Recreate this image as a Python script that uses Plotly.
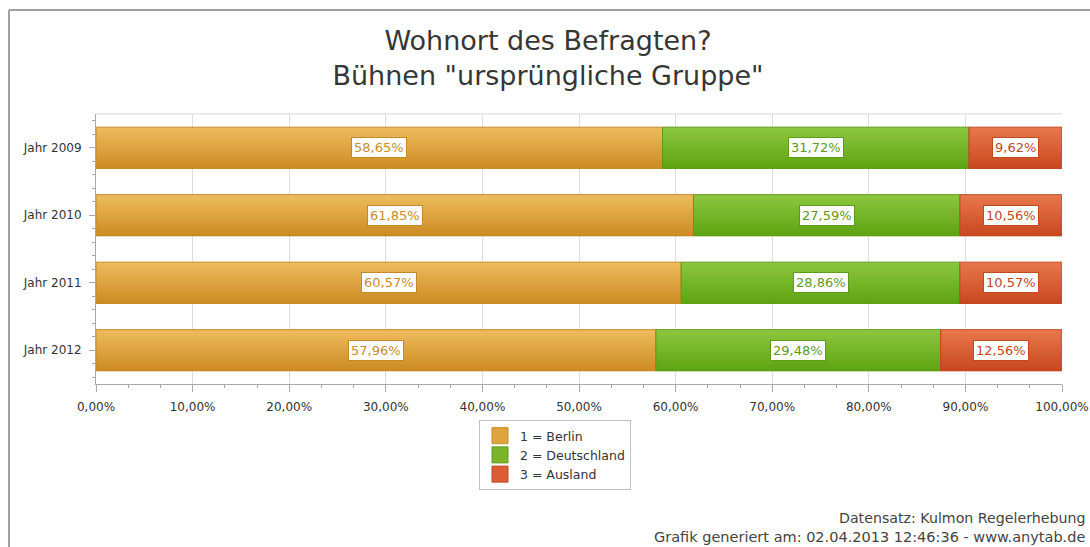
import plotly.graph_objects as go

years = ["Jahr 2009", "Jahr 2010", "Jahr 2011", "Jahr 2012"]
berlin = [58.65, 61.85, 60.57, 57.96]
deutschland = [31.72, 27.59, 28.86, 29.48]
ausland = [9.62, 10.56, 10.57, 12.56]
series_names = ["1 = Berlin", "2 = Deutschland", "3 = Ausland"]
x_ticks = [0, 10, 20, 30, 40, 50, 60, 70, 80, 90, 100]
x_tick_labels = [f"{v:.2f}%".replace(".", ",") for v in x_ticks]

W, H = 1090, 547
L, R, T, B = 96, 28, 114, 163
PW, PH = W - L - R, H - T - B

top_cols = ["#edbb5c", "#8cc63f", "#e8774c"]
bot_cols = ["#cd8c24", "#5fa412", "#c9491f"]
fills = ["#dea43e", "#78b52a", "#dc5d33"]
lines = ["#c48a28", "#5f9a1a", "#bf4a22"]
textcol = ["#c78d2a", "#5f9a1a", "#c2461e"]


def hex2rgb(h):
    h = h.lstrip("#")
    return [int(h[i:i + 2], 16) for i in (0, 2, 4)]


def mix(c1, c2, t):
    a, b = hex2rgb(c1), hex2rgb(c2)
    return "rgb({},{},{})".format(*[round(a[k] + (b[k] - a[k]) * t) for k in range(3)])


ypos = list(range(len(years)))
BAR_W = 0.61
NSTRIP = 20
fig = go.Figure()
data = [berlin, deutschland, ausland]
bases = [[0] * 4, berlin, [b + d for b, d in zip(berlin, deutschland)]]
for i, (vals, name) in enumerate(zip(data, series_names)):
    # vertical gradient: each layer covers from its start down to the bar's bottom edge
    sw = BAR_W / NSTRIP
    for k in range(NSTRIP):
        fig.add_trace(go.Bar(
            y=ypos, x=vals, base=bases[i], orientation="h",
            width=BAR_W - k * sw, offset=-BAR_W / 2 + k * sw,
            showlegend=False, legendgroup=name,
            marker=dict(color=mix(top_cols[i], bot_cols[i], k / (NSTRIP - 1)), line=dict(width=0)),
            hoverinfo="skip",
        ))
    # outline
    fig.add_trace(go.Bar(
        y=ypos, x=vals, base=bases[i], orientation="h", name=name,
        width=BAR_W, showlegend=False, legendgroup=name,
        marker=dict(color="rgba(0,0,0,0)", line=dict(color=lines[i], width=1)),
        hoverinfo="skip",
    ))
    for j, v in enumerate(vals):
        fig.add_annotation(
            x=bases[i][j] + v / 2, y=ypos[j], xref="x", yref="y",
            text=f"{v:.2f}%".replace(".", ","), showarrow=False,
            font=dict(family="DejaVu Sans", size=13, color=textcol[i]),
            bgcolor="white", bordercolor=lines[i], borderwidth=1, borderpad=2,
        )

# legend swatches (legend-only entries)
for i, name in enumerate(series_names):
    fig.add_trace(go.Scatter(
        x=[None], y=[None], mode="markers", name=name, legendgroup=name,
        marker=dict(symbol="square", size=16, color=fills[i], line=dict(color=lines[i], width=1)),
        hoverinfo="skip",
    ))


def px(xp):
    return (xp - L) / PW


def py(yp):
    return (H - B - yp) / PH


shapes = [
    dict(type="line", xref="paper", yref="paper", x0=px(9), x1=px(1092), y0=py(10), y1=py(10),
         line=dict(color="#a0a0a0", width=2)),
    dict(type="line", xref="paper", yref="paper", x0=px(9), x1=px(9), y0=py(10), y1=py(550),
         line=dict(color="#a0a0a0", width=2)),
    dict(type="line", xref="paper", yref="paper", x0=0, x1=1, y0=1, y1=1,
         line=dict(color="#d8d8d8", width=1)),
]

fig.update_layout(
    width=W, height=H, autosize=False,
    margin=dict(l=L, r=R, t=T, b=B, autoexpand=False),
    paper_bgcolor="white", plot_bgcolor="white",
    barmode="overlay",
    separators=",.",
    font=dict(family="DejaVu Sans", size=12, color="#333333"),
    title=dict(
        text="Wohnort des Befragten?<br>Bühnen \"ursprüngliche Gruppe\"",
        x=548 / W, xref="container", xanchor="center", y=1 - 50 / H, yref="container", yanchor="middle",
        font=dict(family="DejaVu Sans", size=27, color="#363636"),
    ),
    xaxis=dict(
        range=[0, 100], tickvals=x_ticks, ticktext=x_tick_labels,
        showgrid=True, gridcolor="#dedede", gridwidth=1,
        showline=True, linecolor="#a8a8a8", linewidth=1,
        ticks="outside", ticklen=7, tickcolor="#a8a8a8", ticklabelstandoff=5,
        minor=dict(ticks="outside", ticklen=3, tickcolor="#a8a8a8", tick0=0, dtick=10 / 3, showgrid=False),
        zeroline=False, fixedrange=True, automargin=False,
        tickfont=dict(family="DejaVu Sans", size=12, color="#333333"),
    ),
    yaxis=dict(
        range=[3.5, -0.5], tickvals=ypos, ticktext=years,
        showgrid=False, showline=True, linecolor="#a8a8a8", linewidth=1,
        ticks="outside", ticklen=6, tickcolor="#a8a8a8", ticklabelstandoff=5,
        minor=dict(ticks="outside", ticklen=3, tickcolor="#a8a8a8", tick0=0, dtick=0.2, showgrid=False),
        zeroline=False, fixedrange=True, automargin=False,
        tickfont=dict(family="DejaVu Sans", size=12, color="#333333"),
    ),
    legend=dict(
        x=px(555), y=py(420), xanchor="center", yanchor="top",
        orientation="v", traceorder="normal",
        bgcolor="white", bordercolor="#c0c0c0", borderwidth=1,
        font=dict(family="DejaVu Sans", size=12.5, color="#333333"),
        itemwidth=30,
    ),
    shapes=shapes,
    showlegend=True,
)

fig.add_annotation(
    text="Datensatz: Kulmon Regelerhebung", xref="paper", yref="paper",
    x=px(1087), y=py(518), xanchor="right", yanchor="middle", showarrow=False,
    font=dict(family="DejaVu Sans", size=14.2, color="#444444"),
)
fig.add_annotation(
    text="Grafik generiert am: 02.04.2013 12:46:36 - www.anytab.de", xref="paper", yref="paper",
    x=px(1087), y=py(537), xanchor="right", yanchor="middle", showarrow=False,
    font=dict(family="DejaVu Sans", size=14.5, color="#444444"),
)

fig.write_html(
    "out.html",
    config={"responsive": False, "displayModeBar": False},
    post_script="document.body.style.margin='0';document.body.style.overflow='hidden';",
)
